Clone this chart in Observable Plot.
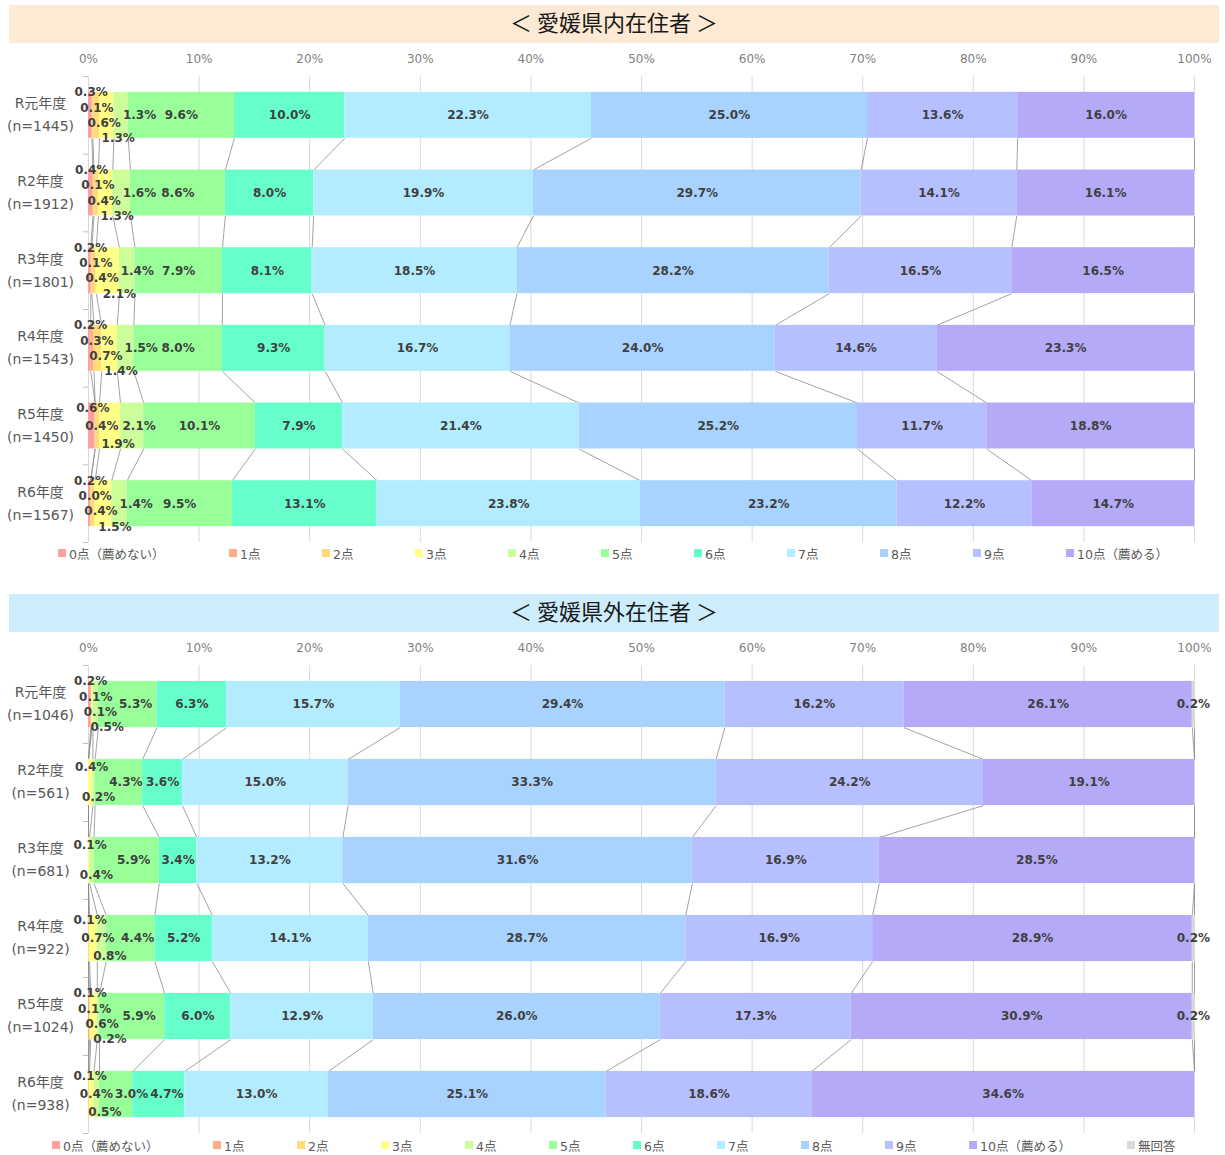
<!DOCTYPE html>
<html><head><meta charset="utf-8">
<script src="https://cdn.jsdelivr.net/npm/d3@7"></script>
<script src="https://cdn.jsdelivr.net/npm/@observablehq/plot@0.6"></script>
<style>
body{margin:0;background:#fff;font-family:"Noto Sans CJK JP","Noto Sans",sans-serif;}
#root{position:relative;width:1225px;height:1155px;overflow:hidden;}
.band{position:absolute;left:9px;width:1210px;height:38px;box-sizing:border-box;padding-bottom:6px;display:flex;align-items:center;justify-content:center;font-size:22px;color:#1a1a1a;}
.chart{position:absolute;left:0;}
.legend{position:absolute;height:20px;display:flex;align-items:center;font-size:12.5px;color:#595959;white-space:nowrap;font-family:"DejaVu Sans","Noto Sans CJK JP",sans-serif;}
.legend .it{display:flex;align-items:center;}
.legend .sw{width:8px;height:8px;margin-right:3px;flex:none;}
</style></head>
<body><div id="root"></div>
<script>
// ---- data ----
const scoreCats = ["0点（薦めない）","1点","2点","3点","4点","5点","6点","7点","8点","9点","10点（薦める）"];
const noAnswerCat = "無回答";
const catColors = ["#FFA0A0","#FFAF7F","#FFDC78","#FFFF88","#CCFF99","#99FF99","#66FFCC","#B3EBFF","#A8D3FF","#B6BFFF","#B4AAF8","#D9D9D9"];
const years = ["R元年度","R2年度","R3年度","R4年度","R5年度","R6年度"];
const insideN = [1445,1912,1801,1543,1450,1567];
const outsideN = [1046,561,681,922,1024,938];
const insideTitle = "＜ 愛媛県内在住者 ＞";
const outsideTitle = "＜ 愛媛県外在住者 ＞";
const xTicks = [0,10,20,30,40,50,60,70,80,90,100];
// rows: R元..R6, columns: 0点..10点 (null = none)
const inside = [
 [0.3,0.1,0.6,1.3,1.3,9.6,10.0,22.3,25.0,13.6,16.0],
 [0.4,0.1,0.4,1.3,1.6,8.6,8.0,19.9,29.7,14.1,16.1],
 [0.2,0.1,0.4,2.1,1.4,7.9,8.1,18.5,28.2,16.5,16.5],
 [0.2,0.3,0.7,1.4,1.5,8.0,9.3,16.7,24.0,14.6,23.3],
 [0.6,null,0.4,1.9,2.1,10.1,7.9,21.4,25.2,11.7,18.8],
 [0.2,0.0,0.4,1.5,1.4,9.5,13.1,23.8,23.2,12.2,14.7]
];
// columns: 0点..10点, 無回答
const outside = [
 [0.2,0.1,null,0.1,0.5,5.3,6.3,15.7,29.4,16.2,26.1,0.2],
 [null,null,null,0.4,0.2,4.3,3.6,15.0,33.3,24.2,19.1,null],
 [null,null,null,0.1,0.4,5.9,3.4,13.2,31.6,16.9,28.5,null],
 [null,null,0.1,0.7,0.8,4.4,5.2,14.1,28.7,16.9,28.9,0.2],
 [null,0.1,0.1,0.6,0.2,5.9,6.0,12.9,26.0,17.3,30.9,0.2],
 [null,null,0.1,0.4,0.5,3.0,4.7,13.0,25.1,18.6,34.6,null]
];

const root = document.getElementById("root");
const H = 0.296; // half bar thickness in row units
const W = 1225, ML = 88, MR = 31;
const pxPerPct = (W - ML - MR) / 100;
const LABEL_FS = 12;
const fmt = v => v.toFixed(1) + "%";
// approximate width of a bold DejaVu label
const textW = s => LABEL_FS * d3.sum([...s], ch => ch === "." ? 0.38 : ch === "%" ? 1.002 : 0.696);

function panel({title, bandColor, bandTop, rows, ns, cats, stackMax, svgHeight, legendTop, legendLeft, legendWidths}) {
  const band = document.createElement("div");
  band.className = "band"; band.style.top = bandTop + "px"; band.style.background = bandColor;
  band.textContent = title; root.appendChild(band);

  const mTop = 33, mBot = 3;
  const pxPerRow = (svgHeight - mTop - mBot) / rows.length;
  const segs = [], labels = [], links = [];
  const ends = rows.map((vals, i) => {
    const total = d3.sum(vals, v => v ?? 0);
    let acc = 0; const e = []; const stacked = [], inline = [];
    vals.forEach((v, c) => {
      const w = (v ?? 0) / total * 100;
      const x1 = acc, x2 = acc + w; acc = x2; e.push(x2);
      if (v != null && w > 0) segs.push({row: i, cat: c, x1, x2});
      if (v != null) {
        const l = {row: i, cat: c, px: (x1 + x2) / 2 * pxPerPct, v, off: 0, w: textW(fmt(v))};
        labels.push(l);
        (c <= stackMax ? stacked : inline).push(l);
      }
    });
    const k = stacked.length;
    const half = k <= 1 ? 0 : k === 2 ? 15 : k === 3 ? 18 : 23;
    stacked.forEach((l, j) => {
      l.off = k <= 1 ? 0 : -half + j * 2 * half / (k - 1);
      l.px += 1 + j * 3.5;
    });
    let prevRight = d3.max(stacked.filter(l => Math.abs(l.off) < 12), l => l.px + l.w / 2) ?? -Infinity;
    inline.forEach((l, j) => {
      l.px = Math.max(l.px + (j === 0 ? 7 : 0), prevRight + 2 + l.w / 2);
      prevRight = l.px + l.w / 2;
    });
    return e;
  });
  for (let i = 0; i < rows.length - 1; i++)
    for (let c = 0; c < cats.length; c++)
      links.push({x1: ends[i][c], x2: ends[i + 1][c], y1: i + H, y2: i + 1 - H});

  const chart = Plot.plot({
    width: W, height: svgHeight,
    marginLeft: ML, marginRight: MR, marginTop: mTop, marginBottom: mBot,
    style: {fontFamily: '"DejaVu Sans","Noto Sans CJK JP",sans-serif', overflow: "visible", background: "transparent"},
    x: {domain: [0, 100], axis: null},
    y: {domain: [-0.5, rows.length - 0.5], reverse: true, axis: null},
    marks: [
      Plot.ruleX(xTicks, {y1: -0.5, y2: rows.length - 0.5, stroke: "#D9D9D9", strokeWidth: 1}),
      Plot.ruleY(d3.range(-0.5, rows.length, 1), {x1: -0.45, x2: 0, stroke: "#BFBFBF"}),
      Plot.text(xTicks, {x: d => d, y: -0.5, text: d => d + "%", dy: -17, fontSize: 12, fill: "#7F7F7F"}),
      Plot.link(links, {x1: "x1", x2: "x2", y1: "y1", y2: "y2", stroke: "#8C8C8C", strokeWidth: 0.8}),
      Plot.rect(segs, {x1: "x1", x2: "x2", y1: d => d.row - H, y2: d => d.row + H, fill: d => catColors[d.cat]}),
      Plot.text(labels, {x: d => d.px / pxPerPct, y: d => d.row + d.off / pxPerRow, text: d => fmt(d.v),
        fontSize: LABEL_FS, fontWeight: "bold", fill: "#404040"}),
      Plot.text(years, {x: 0, y: (d, i) => i, text: (d, i) => `${d}\n(n=${ns[i]})`, dx: -48, dy: -3,
        textAnchor: "middle", lineHeight: 1.65, fontSize: 14, fill: "#595959"})
    ]
  });
  chart.classList.add("chart");
  chart.style.top = (bandTop + 38) + "px";
  root.appendChild(chart);

  const leg = document.createElement("div");
  leg.className = "legend"; leg.style.top = legendTop + "px"; leg.style.left = legendLeft + "px";
  cats.forEach((name, c) => {
    const it = document.createElement("div"); it.className = "it";
    it.style.width = legendWidths(c) + "px";
    const sw = document.createElement("span"); sw.className = "sw"; sw.style.background = catColors[c];
    const tx = document.createElement("span"); tx.textContent = name;
    it.appendChild(sw); it.appendChild(tx); leg.appendChild(it);
  });
  root.appendChild(leg);
}

panel({title: insideTitle, bandColor: "#FDE9D4", bandTop: 5, rows: inside, ns: insideN,
  cats: scoreCats, stackMax: 3, svgHeight: 502, legendTop: 543, legendLeft: 58,
  legendWidths: c => c === 0 ? 171 : 93});
panel({title: outsideTitle, bandColor: "#CDEDFD", bandTop: 594, rows: outside, ns: outsideN,
  cats: [...scoreCats, noAnswerCat], stackMax: 4, svgHeight: 504, legendTop: 1135, legendLeft: 52,
  legendWidths: c => c === 0 ? 161 : c === 10 ? 158 : 84});
</script>
</body></html>
